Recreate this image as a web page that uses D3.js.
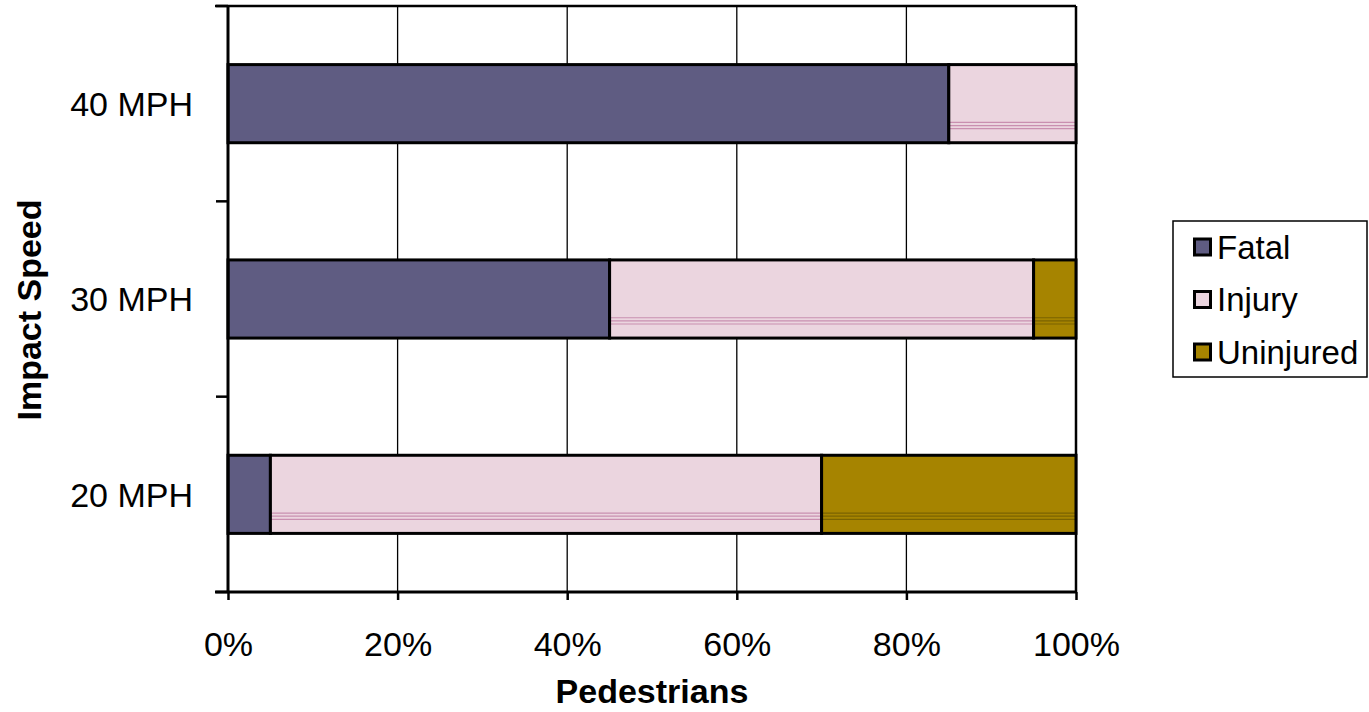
<!DOCTYPE html>
<html>
<head>
<meta charset="utf-8">
<script src="https://cdn.jsdelivr.net/npm/d3@7"></script>
<style>
  html, body { margin: 0; padding: 0; background: #fff; }
  svg { display: block; font-family: "Liberation Sans", Arial, sans-serif; }
</style>
</head>
<body>
<svg id="chart" width="1369" height="712"></svg>
<script>
// Outcome of pedestrian collisions by vehicle impact speed (share of pedestrians)
const speeds = ["20 MPH", "30 MPH", "40 MPH"];
const outcomes = ["Fatal", "Injury", "Uninjured"];
const fatal = [5, 45, 85];
const injury = [65, 50, 15];
const uninjured = [30, 5, 0];
const xTicks = [0, 20, 40, 60, 80, 100];

const colors = { Fatal: "#5f5c82", Injury: "#ebd5df", Uninjured: "#a68400" };
const stripeColors = { Fatal: null, Injury: "#c98fb0", Uninjured: "#7a6300" };

const FS = 34;
const svg = d3.select("#chart");
const margin = { left: 228, right: 1369 - 1076, top: 6, bottom: 712 - 592 };
const W = 1369, H = 712;

const x = d3.scaleLinear().domain([0, 100]).range([margin.left, W - margin.right]);
const y = d3.scaleBand().domain(speeds.slice().reverse()).range([margin.top, H - margin.bottom]).paddingInner(0.6).paddingOuter(0.3);
const yOuter = d3.scaleBand().domain(speeds.slice().reverse()).range([margin.top, H - margin.bottom]);

const rows = speeds.map((s, i) => ({ speed: s, Fatal: fatal[i], Injury: injury[i], Uninjured: uninjured[i] }));
const stacked = d3.stack().keys(outcomes)(rows);

// vertical gridlines
svg.append("g").selectAll("line").data(xTicks.slice(1))
  .join("line")
  .attr("x1", d => x(d)).attr("x2", d => x(d))
  .attr("y1", margin.top).attr("y2", H - margin.bottom)
  .attr("stroke", "#000").attr("stroke-width", 1.3);

// top and right border of plot area
svg.append("line")
  .attr("x1", x(0) - 13).attr("x2", x(100))
  .attr("y1", margin.top).attr("y2", margin.top)
  .attr("stroke", "#000").attr("stroke-width", 2.5);
svg.append("line")
  .attr("x1", x(100)).attr("x2", x(100))
  .attr("y1", margin.top).attr("y2", H - margin.bottom)
  .attr("stroke", "#000").attr("stroke-width", 2.5);

// bars
const layers = svg.append("g").selectAll("g").data(stacked).join("g");
layers.each(function(layer) {
  const key = layer.key;
  const g = d3.select(this);
  const segs = layer.filter(d => d[1] - d[0] > 0);
  g.selectAll("rect").data(segs).join("rect")
    .attr("x", d => x(d[0]))
    .attr("y", d => y(d.data.speed))
    .attr("width", d => x(d[1]) - x(d[0]))
    .attr("height", y.bandwidth())
    .attr("fill", colors[key]);
  if (stripeColors[key]) {
    const offs = [0.74, 0.78, 0.82];
    segs.forEach(d => {
      offs.forEach(o => {
        g.append("line")
          .attr("x1", x(d[0])).attr("x2", x(d[1]))
          .attr("y1", y(d.data.speed) + y.bandwidth() * o)
          .attr("y2", y(d.data.speed) + y.bandwidth() * o)
          .attr("stroke", stripeColors[key]).attr("stroke-width", 1.2);
      });
    });
  }
  g.selectAll("rect.outline").data(segs).join("rect")
    .attr("class", "outline")
    .attr("x", d => x(d[0]))
    .attr("y", d => y(d.data.speed))
    .attr("width", d => x(d[1]) - x(d[0]))
    .attr("height", y.bandwidth())
    .attr("fill", "none").attr("stroke", "#000").attr("stroke-width", 3);
});

// x axis
const xAxis = svg.append("g")
  .attr("transform", `translate(0,${H - margin.bottom})`)
  .call(d3.axisBottom(x).tickValues(xTicks).tickFormat(d => d + "%").tickSize(8));
xAxis.select(".domain").attr("stroke-width", 3).attr("d", `M${x(0) - 13},0H${x(100)}`);
xAxis.selectAll(".tick line").attr("stroke-width", 2.5);
xAxis.selectAll("text")
  .attr("y", 64).attr("dy", null)
  .attr("font-size", FS).attr("fill", "#000").attr("font-family", "Liberation Sans, Arial, sans-serif");

// y axis
const yAxis = svg.append("g").attr("transform", `translate(${x(0)},0)`);
yAxis.append("line")
  .attr("x1", 0).attr("x2", 0).attr("y1", margin.top).attr("y2", H - margin.bottom)
  .attr("stroke", "#000").attr("stroke-width", 3);
const boundaries = speeds.slice().reverse().map(s => yOuter(s)).concat([H - margin.bottom]);
yAxis.selectAll("line.tk").data(boundaries).join("line").attr("class", "tk")
  .attr("x1", -12).attr("x2", 0).attr("y1", d => d).attr("y2", d => d)
  .attr("stroke", "#000").attr("stroke-width", 2.5);
yAxis.selectAll("text").data(speeds).join("text")
  .attr("x", -35)
  .attr("y", d => y(d) + y.bandwidth() / 2)
  .attr("dy", "0.36em")
  .attr("text-anchor", "end")
  .attr("font-size", FS)
  .text(d => d);

// axis titles
svg.append("text")
  .attr("x", (x(0) + x(100)) / 2).attr("y", 703)
  .attr("text-anchor", "middle").attr("font-size", FS).attr("font-weight", "bold")
  .text("Pedestrians");
svg.append("text")
  .attr("transform", `translate(41,310) rotate(-90)`)
  .attr("text-anchor", "middle").attr("font-size", FS).attr("font-weight", "bold")
  .text("Impact Speed");

// legend
const legend = svg.append("g").attr("transform", "translate(1173,221)");
legend.append("rect").attr("width", 194).attr("height", 156)
  .attr("fill", "#fff").attr("stroke", "#000").attr("stroke-width", 1.5);
const items = legend.selectAll("g.item").data(outcomes).join("g").attr("class", "item")
  .attr("transform", (d, i) => `translate(0,${26 + i * 52.5})`);
items.append("rect").attr("x", 21.5).attr("y", -8).attr("width", 16).attr("height", 16)
  .attr("fill", d => colors[d]).attr("stroke", "#000").attr("stroke-width", 3);
items.append("text").attr("x", 44).attr("y", 0).attr("dy", "0.36em")
  .attr("font-size", 33).text(d => d);
</script>
</body>
</html>
